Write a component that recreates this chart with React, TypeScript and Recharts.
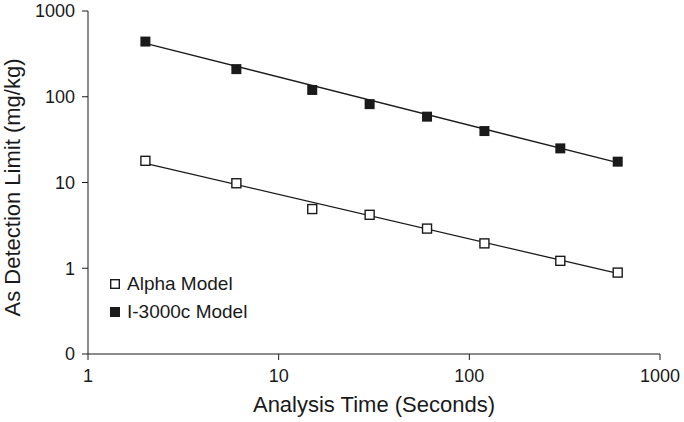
import { ScatterChart, Scatter, XAxis, YAxis, Legend, Label } from 'recharts';

const times = [2, 6, 15, 30, 60, 120, 300, 600];
const alphaLimits = [17.9, 9.8, 4.9, 4.2, 2.9, 1.95, 1.22, 0.89];
const i3000Limits = [440, 210, 120, 82, 58.6, 39.8, 25, 17.5];

// power-law trendline end points
const trendTimes = [2, 600];
const alphaTrend = [16.7, 0.87];
const i3000Trend = [420, 17];

const xTicks = [1, 10, 100, 1000];
const yTicks = [0.1, 1, 10, 100, 1000];

const seriesNames = ['Alpha Model', 'I-3000c Model'];

const FONT = '"Liberation Sans", Arial, sans-serif';
const INK = '#1a1a1a';

const toPoints = (xs: number[], ys: number[]) => xs.map((x, i) => ({ x, y: ys[i] }));

const FilledSquare = (p: any) => (
  <rect x={p.cx - 5} y={p.cy - 5} width={10} height={10} fill={INK} />
);
const OpenSquare = (p: any) => (
  <rect x={p.cx - 4.5} y={p.cy - 4.5} width={9} height={9} fill="#fff" stroke={INK} strokeWidth={1.4} />
);
const NoShape = () => <g />;

const XTitle = (p: any) => {
  const { x, y, width } = p.viewBox;
  return (
    <text x={x + width / 2} y={y + 58} textAnchor="middle" fontSize={22} fill={INK} fontFamily={FONT}>
      Analysis Time (Seconds)
    </text>
  );
};

const YTitle = (p: any) => {
  const { x, y, height } = p.viewBox;
  const cx = x - 8;
  const cy = y + height / 2 + 5;
  return (
    <text x={cx} y={cy} transform={`rotate(-90, ${cx}, ${cy})`} textAnchor="middle" fontSize={22} fill={INK} fontFamily={FONT}>
      As Detection Limit (mg/kg)
    </text>
  );
};

const LegendBox = () => (
  <div style={{ fontFamily: FONT, fontSize: 19, color: INK, lineHeight: '28px' }}>
    {seriesNames.map((name, i) => (
      <div key={name} style={{ display: 'flex', alignItems: 'center' }}>
        <svg width={10} height={10} style={{ marginRight: 7 }}>
          {i === 0 ? (
            <rect x={0.7} y={0.7} width={8.6} height={8.6} fill="#fff" stroke={INK} strokeWidth={1.4} />
          ) : (
            <rect x={0} y={0} width={10} height={10} fill={INK} />
          )}
        </svg>
        <span>{name}</span>
      </div>
    ))}
  </div>
);

export default function App() {
  return (
    <div style={{ position: 'absolute', left: 0, top: 0, background: '#fff' }}>
      <ScatterChart width={684} height={422} margin={{ top: 11, right: 24, left: 28, bottom: 8 }}>
        <XAxis
          type="number"
          dataKey="x"
          scale="log"
          domain={[1, 1000]}
          ticks={xTicks}
          interval={0}
          allowDataOverflow
          height={60}
          tickSize={6}
          tickMargin={9}
          stroke={INK}
          tick={{ fill: INK, fontSize: 18, fontFamily: FONT }}
        >
          <Label content={XTitle} />
        </XAxis>
        <YAxis
          type="number"
          dataKey="y"
          scale="log"
          domain={[0.1, 1000]}
          ticks={yTicks}
          interval={0}
          allowDataOverflow
          width={60}
          tickSize={6}
          tickMargin={7}
          stroke={INK}
          tickFormatter={(v: number) => (v < 1 ? '0' : String(v))}
          tick={{ fill: INK, fontSize: 18, fontFamily: FONT }}
        >
          <Label content={YTitle} />
        </YAxis>
        <Legend
          layout="vertical"
          align="center"
          verticalAlign="middle"
          wrapperStyle={{ left: 110, top: 270, width: 'auto' }}
          content={LegendBox}
        />
        <Scatter
          name="Alpha trend"
          data={toPoints(trendTimes, alphaTrend)}
          line={{ stroke: INK, strokeWidth: 1.3 }}
          shape={NoShape}
          legendType="none"
          isAnimationActive={false}
        />
        <Scatter
          name="I-3000c trend"
          data={toPoints(trendTimes, i3000Trend)}
          line={{ stroke: INK, strokeWidth: 1.3 }}
          shape={NoShape}
          legendType="none"
          isAnimationActive={false}
        />
        <Scatter name={seriesNames[0]} data={toPoints(times, alphaLimits)} shape={OpenSquare} isAnimationActive={false} />
        <Scatter name={seriesNames[1]} data={toPoints(times, i3000Limits)} shape={FilledSquare} isAnimationActive={false} />
      </ScatterChart>
    </div>
  );
}
